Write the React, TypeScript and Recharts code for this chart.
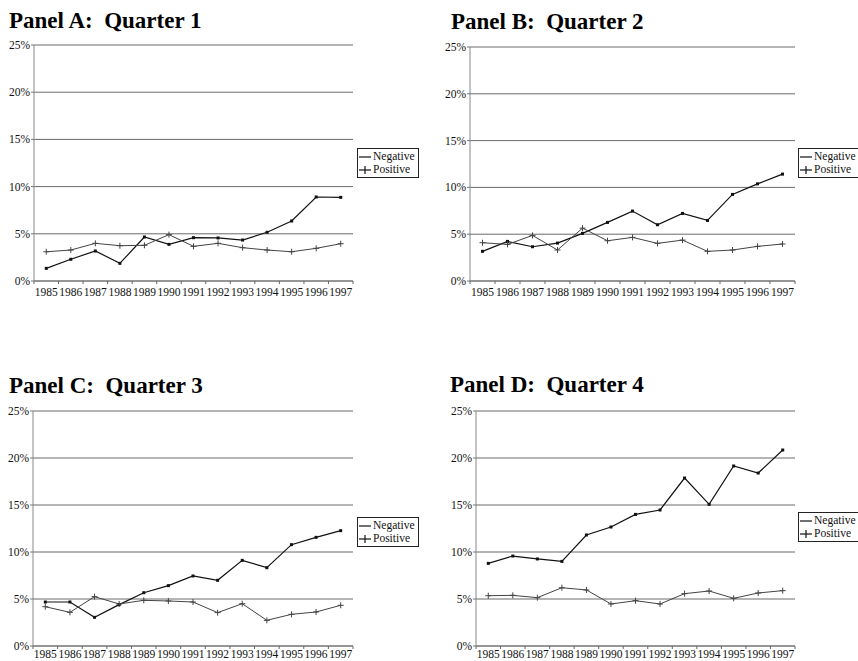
import React from 'react';
import { LineChart, Line, XAxis, YAxis, CartesianGrid, Legend } from 'recharts';

const years = ['1985', '1986', '1987', '1988', '1989', '1990', '1991', '1992', '1993', '1994', '1995', '1996', '1997'];
const yTicks = [0, 5, 10, 15, 20, 25];

const q1Negative = [1.34, 2.3, 3.18, 1.87, 4.66, 3.88, 4.59, 4.56, 4.34, 5.16, 6.36, 8.9, 8.86];
const q1Positive = [3.1, 3.28, 3.99, 3.74, 3.78, 4.91, 3.67, 3.99, 3.53, 3.28, 3.1, 3.46, 3.95];

const q2Negative = [3.17, 4.23, 3.66, 4.05, 5.09, 6.26, 7.47, 6.01, 7.22, 6.47, 9.25, 10.38, 11.42];
const q2Positive = [4.09, 3.91, 4.87, 3.31, 5.65, 4.3, 4.66, 4.02, 4.37, 3.17, 3.31, 3.7, 3.95];

const q3Negative = [4.68, 4.68, 3.05, 4.4, 5.67, 6.42, 7.45, 6.99, 9.11, 8.33, 10.78, 11.56, 12.27];
const q3Positive = [4.18, 3.58, 5.25, 4.47, 4.86, 4.79, 4.68, 3.55, 4.5, 2.73, 3.37, 3.62, 4.33];

const q4Negative = [8.79, 9.57, 9.26, 9.0, 11.81, 12.66, 14.0, 14.47, 17.87, 15.07, 19.15, 18.4, 20.85];
const q4Positive = [5.35, 5.39, 5.14, 6.2, 5.96, 4.47, 4.82, 4.47, 5.57, 5.85, 5.07, 5.64, 5.89];

const FONT = '"Liberation Serif", "Times New Roman", Times, serif';

type Cfg = {
  title: string;
  neg: number[];
  pos: number[];
  left: number;
  top: number;
  width: number;
  height: number;
  mTop: number;
  mRight: number;
  mBottom: number;
  yW: number;
  xH: number;
  xTickSize: number;
  xTickMargin: number;
  titleLeft: number;
  titleTop: number;
  legendLeft: number;
  legendTop: number;
};

const panels: Cfg[] = [
  {
    title: 'Panel A:  Quarter 1', neg: q1Negative, pos: q1Positive,
    left: 0, top: 0, width: 430, height: 310, mTop: 45, mRight: 77, mBottom: 9, yW: 34, xH: 20,
    xTickSize: 4, xTickMargin: 3, titleLeft: 9, titleTop: 9, legendLeft: 357, legendTop: 148,
  },
  {
    title: 'Panel B:  Quarter 2', neg: q2Negative, pos: q2Positive,
    left: 430, top: 0, width: 428, height: 310, mTop: 47, mRight: 63, mBottom: 9, yW: 40, xH: 20,
    xTickSize: 4, xTickMargin: 3, titleLeft: 451, titleTop: 10, legendLeft: 368, legendTop: 148,
  },
  {
    title: 'Panel C:  Quarter 3', neg: q3Negative, pos: q3Positive,
    left: 0, top: 360, width: 430, height: 301, mTop: 51, mRight: 77, mBottom: 0, yW: 33, xH: 15,
    xTickSize: 3, xTickMargin: 1, titleLeft: 9, titleTop: 374, legendLeft: 357, legendTop: 157,
  },
  {
    title: 'Panel D:  Quarter 4', neg: q4Negative, pos: q4Positive,
    left: 430, top: 360, width: 428, height: 301, mTop: 51, mRight: 63, mBottom: 0, yW: 46, xH: 15,
    xTickSize: 3, xTickMargin: 1, titleLeft: 450, titleTop: 373, legendLeft: 368, legendTop: 152,
  },
];

const LegendBox = () => (
  <div
    style={{
      border: '1px solid #222',
      background: '#fff',
      fontFamily: FONT,
      fontSize: 11.5,
      lineHeight: '13px',
      padding: '1px 3px 1px 1px',
      boxSizing: 'border-box',
      color: '#111',
      whiteSpace: 'nowrap',
    }}
  >
    <div style={{ display: 'flex', alignItems: 'center' }}>
      <svg width={12} height={10} style={{ display: 'block' }}>
        <line x1={0} x2={12} y1={5} y2={5} stroke="#111" strokeWidth={1.2} />
      </svg>
      <span style={{ marginLeft: 2 }}>Negative</span>
    </div>
    <div style={{ display: 'flex', alignItems: 'center' }}>
      <svg width={12} height={10} style={{ display: 'block' }}>
        <line x1={0} x2={12} y1={5} y2={5} stroke="#111" strokeWidth={1.2} />
        <line x1={6} x2={6} y1={1} y2={9} stroke="#111" strokeWidth={1.2} />
      </svg>
      <span style={{ marginLeft: 2 }}>Positive</span>
    </div>
  </div>
);

const NegDot = (p: any) => {
  if (p.cx == null || p.cy == null) return <g key={p.index} />;
  return <rect key={p.index} x={p.cx - 1.5} y={p.cy - 1.5} width={3} height={3} fill="#111" />;
};

const PosDot = (p: any) => {
  if (p.cx == null || p.cy == null) return <g key={p.index} />;
  return (
    <g key={p.index}>
      <line x1={p.cx - 3} x2={p.cx + 3} y1={p.cy} y2={p.cy} stroke="#444" strokeWidth={1} />
      <line x1={p.cx} x2={p.cx} y1={p.cy - 3} y2={p.cy + 3} stroke="#444" strokeWidth={1} />
    </g>
  );
};

const Panel = ({ cfg }: { cfg: Cfg }) => {
  const data = years.map((yr, i) => ({ year: yr, Negative: cfg.neg[i], Positive: cfg.pos[i] }));
  const plotW = cfg.width - cfg.mRight - cfg.yW;
  const band = plotW / years.length;
  const off = cfg.xTickSize + cfg.xTickMargin;

  const XTick = (props: any) => {
    const { x, y, payload, index } = props;
    const axisY = y - off;
    return (
      <g>
        <line x1={x - band / 2} x2={x - band / 2} y1={axisY} y2={axisY + 3} stroke="#666" />
        {index === years.length - 1 && (
          <line x1={x + band / 2} x2={x + band / 2} y1={axisY} y2={axisY + 3} stroke="#666" />
        )}
        <text x={x} y={y} dy="0.71em" textAnchor="middle" fontFamily={FONT} fontSize={11.5} fill="#111">
          {payload.value}
        </text>
      </g>
    );
  };

  return (
    <>
      <div
        style={{
          position: 'absolute',
          left: cfg.titleLeft,
          top: cfg.titleTop,
          fontFamily: FONT,
          fontWeight: 'bold',
          fontSize: 23,
          lineHeight: 1,
          whiteSpace: 'pre',
          color: '#000',
        }}
      >
        {cfg.title}
      </div>
      <div style={{ position: 'absolute', left: cfg.left, top: cfg.top }}>
        <LineChart
          width={cfg.width}
          height={cfg.height}
          data={data}
          margin={{ top: cfg.mTop, right: cfg.mRight, bottom: cfg.mBottom, left: 0 }}
        >
          <CartesianGrid vertical={false} stroke="#6a6a6a" strokeWidth={1} />
          <XAxis
            dataKey="year"
            scale="band"
            interval={0}
            height={cfg.xH}
            tickSize={cfg.xTickSize}
            tickMargin={cfg.xTickMargin}
            tickLine={false}
            axisLine={{ stroke: '#777' }}
            tick={<XTick />}
          />
          <YAxis
            domain={[0, 25]}
            ticks={yTicks}
            width={cfg.yW}
            interval={0}
            tickFormatter={(v: number) => `${v}%`}
            tickSize={3}
            tickMargin={1}
            tickLine={{ stroke: '#777' }}
            axisLine={{ stroke: '#888' }}
            tick={{ fontFamily: FONT, fontSize: 11.5, fill: '#111' }}
          />
          <YAxis
            yAxisId="right"
            orientation="right"
            domain={[0, 25]}
            width={0}
            tick={false}
            tickLine={false}
            axisLine={{ stroke: '#aaa' }}
          />
          <Legend
            content={<LegendBox />}
            layout="horizontal"
            verticalAlign="middle"
            align="center"
            wrapperStyle={{ left: cfg.legendLeft, top: cfg.legendTop, width: 'auto', height: 'auto' }}
          />
          <Line
            type="linear"
            dataKey="Negative"
            stroke="#111"
            strokeWidth={1.2}
            dot={NegDot}
            activeDot={false}
            isAnimationActive={false}
          />
          <Line
            type="linear"
            dataKey="Positive"
            stroke="#444"
            strokeWidth={1}
            dot={PosDot}
            activeDot={false}
            isAnimationActive={false}
          />
        </LineChart>
      </div>
    </>
  );
};

export default function App() {
  return (
    <div
      style={{
        position: 'absolute',
        left: 0,
        top: 0,
        width: 858,
        height: 661,
        overflow: 'hidden',
        background: '#fff',
      }}
    >
      {panels.map((cfg) => (
        <Panel key={cfg.title} cfg={cfg} />
      ))}
    </div>
  );
}
